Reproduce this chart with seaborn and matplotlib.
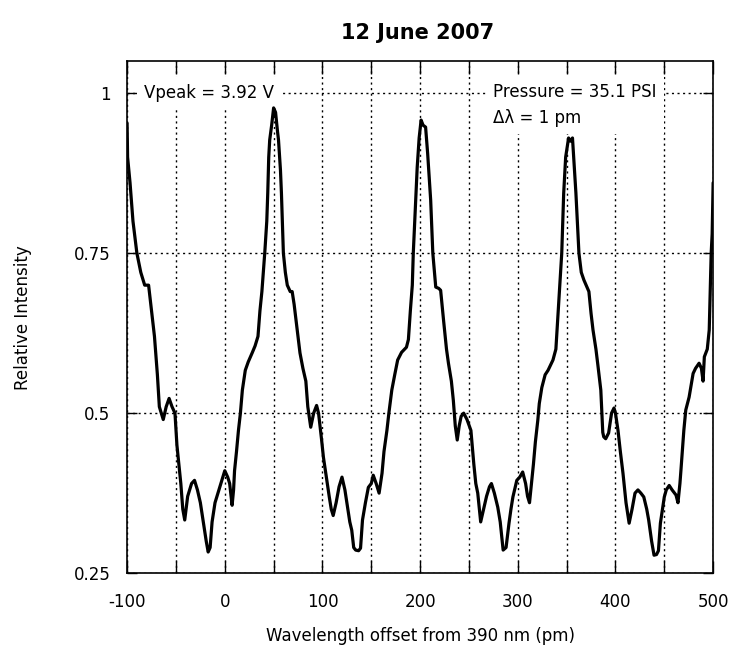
import matplotlib
matplotlib.use("Agg")
import matplotlib.pyplot as plt
import seaborn as sns
import pandas as pd

# Fabry-Perot scan, 12 June 2007
wavelength_offset = [
    -100, -99.5, -97, -94, -90, -86, -82, -78, -75, -72, -69, -67, -65, -63, -60,
    -57, -54, -51, -49, -47, -45, -43, -41, -38, -34, -31, -28, -25, -22, -19,
    -17, -15, -13, -10, -6, -3, 0, 3, 5, 7.5, 9, 10, 12, 14, 16, 18, 21, 24, 28,
    31, 34, 36, 38, 41, 43, 44, 45, 46, 48, 50, 52, 54, 55, 57, 58, 60, 62, 64,
    67, 69, 71, 73, 75, 77, 80, 83, 85, 88, 91, 94, 96, 99, 101, 104, 107, 109,
    111, 114, 117, 120, 123, 126, 128, 130, 132, 134, 137, 139, 141, 144, 147,
    150, 152, 155, 158, 161, 163, 166, 168, 171, 174, 177, 181, 186, 188, 190,
    192, 193, 195, 197, 199, 201, 203, 205.6, 207.7, 210.8, 213, 216, 219, 221,
    224, 227, 229, 232, 234, 236, 238, 240, 242, 244.6, 248, 252, 255, 257, 259,
    262, 265, 268, 271, 273, 276, 279.5, 282, 285, 288, 291, 293, 295, 299, 302,
    305, 308, 310, 312, 314, 316, 318, 320.5, 322, 324.6, 328, 331, 336, 339,
    341, 343, 345, 347, 349, 352, 354, 356, 358, 359.5, 362.6, 365, 367.7, 370,
    372.8, 375, 377, 380, 382, 385, 387, 388, 390, 393, 396, 398.5, 400, 402.6,
    405, 407.7, 410.8, 414, 417, 420, 423, 426, 429, 432, 434, 437, 439.5, 442,
    444, 446, 450, 452, 455, 458, 462, 464, 466, 467, 470, 472, 475.4, 479.5,
    482, 485.6, 488, 489.7, 491, 494, 496, 497, 498, 499, 500,
]
relative_intensity = [
    0.953, 0.90, 0.86, 0.80, 0.75, 0.72, 0.70, 0.70, 0.66, 0.62, 0.56, 0.51, 0.50,
    0.49, 0.51, 0.523, 0.51, 0.50, 0.45, 0.42, 0.39, 0.35, 0.333, 0.37, 0.39,
    0.395, 0.38, 0.36, 0.33, 0.30, 0.283, 0.29, 0.33, 0.36, 0.38, 0.395, 0.41,
    0.40, 0.39, 0.356, 0.38, 0.41, 0.44, 0.473, 0.50, 0.536, 0.567, 0.58, 0.594,
    0.605, 0.62, 0.66, 0.69, 0.752, 0.80, 0.844, 0.90, 0.927, 0.95, 0.977, 0.97,
    0.94, 0.927, 0.88, 0.844, 0.75, 0.72, 0.70, 0.69, 0.69, 0.67, 0.645, 0.62,
    0.594, 0.57, 0.55, 0.51, 0.478, 0.50, 0.512, 0.50, 0.46, 0.431, 0.40, 0.369,
    0.35, 0.34, 0.36, 0.385, 0.40, 0.38, 0.35, 0.33, 0.317, 0.29, 0.286, 0.285,
    0.289, 0.333, 0.36, 0.384, 0.39, 0.403, 0.39, 0.375, 0.406, 0.44, 0.473,
    0.50, 0.536, 0.56, 0.583, 0.595, 0.603, 0.615, 0.66, 0.70, 0.75, 0.817,
    0.884, 0.93, 0.958, 0.95, 0.947, 0.906, 0.833, 0.75, 0.697, 0.695, 0.692,
    0.645, 0.60, 0.578, 0.55, 0.52, 0.48, 0.458, 0.48, 0.495, 0.50, 0.49, 0.473,
    0.42, 0.39, 0.375, 0.33, 0.35, 0.37, 0.385, 0.39, 0.375, 0.353, 0.33, 0.286,
    0.29, 0.328, 0.35, 0.369, 0.395, 0.40, 0.408, 0.39, 0.37, 0.36, 0.39, 0.42,
    0.455, 0.489, 0.515, 0.54, 0.56, 0.567, 0.583, 0.60, 0.65, 0.70, 0.75, 0.844,
    0.90, 0.93, 0.925, 0.93, 0.88, 0.844, 0.75, 0.72, 0.708, 0.70, 0.69, 0.656,
    0.63, 0.60, 0.575, 0.536, 0.47, 0.463, 0.46, 0.469, 0.50, 0.508, 0.50, 0.473,
    0.44, 0.406, 0.36, 0.328, 0.35, 0.375, 0.38, 0.375, 0.369, 0.35, 0.333, 0.30,
    0.278, 0.279, 0.285, 0.328, 0.369, 0.38, 0.387, 0.38, 0.372, 0.36, 0.39,
    0.41, 0.473, 0.505, 0.525, 0.562, 0.57, 0.578, 0.57, 0.55, 0.588, 0.60, 0.63,
    0.69, 0.75, 0.78, 0.86,
]

x_ticks = [-100, -50, 0, 50, 100, 150, 200, 250, 300, 350, 400, 450, 500]
x_tick_labels = ["-100", "", "0", "", "100", "", "200", "", "300", "", "400", "", "500"]
y_ticks = [0.25, 0.5, 0.75, 1.0]
y_tick_labels = ["0.25", "0.5", "0.75", "1"]

sns.set_style("ticks")
plt.rcParams["font.family"] = ["DejaVu Sans"]
plt.rcParams["axes.unicode_minus"] = False
plt.rcParams["text.color"] = "black"
plt.rcParams["axes.labelcolor"] = "black"

fig = plt.figure(figsize=(7.39, 6.58), dpi=100)
ax = fig.add_axes([0.172, 0.129, 0.793, 0.778])

df = pd.DataFrame({"offset": wavelength_offset, "intensity": relative_intensity})
sns.lineplot(data=df, x="offset", y="intensity", ax=ax, color="black",
             linewidth=2.3, estimator=None, sort=False, zorder=4)

ax.set_xlim(-100, 500)
ax.set_ylim(0.25, 1.05)
ax.set_xticks(x_ticks)
ax.set_xticklabels(x_tick_labels, fontsize=12)
ax.set_yticks(y_ticks)
ax.set_yticklabels(y_tick_labels, fontsize=12)
ax.tick_params(axis="x", direction="in", length=9, width=1, top=True,
               colors="black", pad=14)
ax.tick_params(axis="y", direction="in", length=7, width=1, right=True,
               colors="black", pad=12)
ax.grid(True, linestyle=(0, (1.5, 2.5)), color="black", linewidth=1.0, zorder=1)
for s in ax.spines.values():
    s.set_color("black")
    s.set_linewidth(1.2)

ax.set_xlabel("Wavelength offset from 390 nm (pm)", fontsize=12, labelpad=12)
ax.set_ylabel("Relative Intensity", fontsize=12, labelpad=30)
fig.suptitle("12 June 2007", fontsize=15, fontweight="bold", x=0.565, y=0.965,
             color="black")

box = dict(facecolor="white", edgecolor="none", pad=5)
ax.text(-82.5, 1.0, "Vpeak = 3.92 V", fontsize=12, ha="left", va="center",
        bbox=box, zorder=3)
ax.text(275, 1.016, "Pressure = 35.1 PSI\nΔλ = 1 pm", fontsize=12, ha="left",
        va="top", linespacing=1.55, bbox=box, zorder=3)

fig.savefig("out.png", dpi=100)
